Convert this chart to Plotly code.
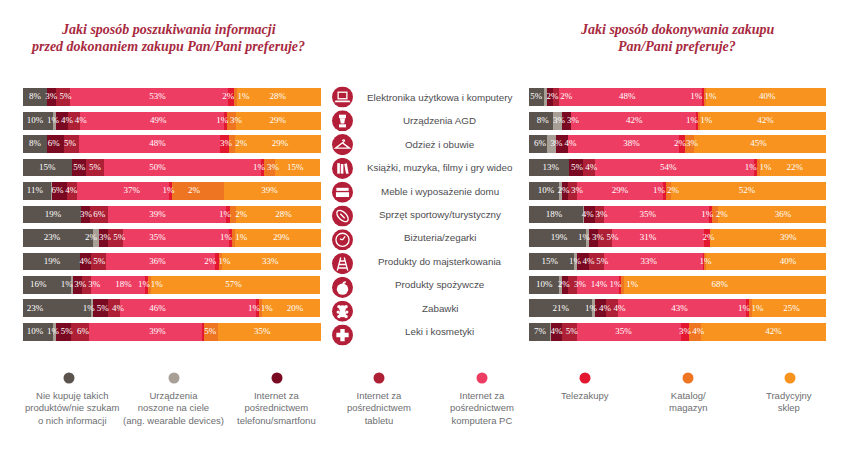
import base64
from plotly.subplots import make_subplots
import plotly.graph_objects as go

W = 842
H = 450

CATEGORIES = [
    "Elektronika użytkowa i komputery", "Urządzenia AGD", "Odzież i obuwie",
    "Książki, muzyka, filmy i gry wideo", "Meble i wyposażenie domu",
    "Sprzęt sportowy/turystyczny", "Biżuteria/zegarki", "Produkty do majsterkowania",
    "Produkty spożywcze", "Zabawki", "Leki i kosmetyki",
]
SERIES = [
    "Nie kupuję takich<br>produktów/nie szukam<br>o nich informacji",
    "Urządzenia<br>noszone na ciele<br>(ang. wearable devices)",
    "Internet za<br>pośrednictwem<br>telefonu/smartfonu",
    "Internet za<br>pośrednictwem<br>tabletu",
    "Internet za<br>pośrednictwem<br>komputera PC",
    "Telezakupy",
    "Katalog/<br>magazyn",
    "Tradycyjny<br>sklep",
]
COLORS = ["#5a534e", "#a89f97", "#7a0a22", "#ad2036", "#ee3d63", "#e3172f", "#ee7623", "#f7931e"]

# segment widths as drawn in the picture (they do not always agree with the printed labels)
LEFT_WIDTHS = [
    [8.1, 0, 3.0, 4.8, 53.0, 1.9, 1.1, 28.1],
    [10.1, 1.0, 4.0, 4.0, 48.3, 1.0, 3.0, 28.6],
    [8.1, 0, 5.7, 5.0, 47.3, 3.0, 2.0, 28.9],
    [16.3, 0, 5.0, 6.0, 52.7, 1.0, 3.4, 15.4],
    [9.4, 0.3, 5.0, 3.4, 30.9, 1.0, 17.3, 32.7],
    [19.5, 0, 3.0, 6.0, 39.6, 1.3, 2.0, 28.6],
    [23.5, 2.0, 3.0, 5.0, 35.6, 1.0, 1.0, 28.9],
    [19.1, 0, 3.7, 5.0, 36.6, 1.3, 1.0, 33.2],
    [16.1, 0.7, 3.0, 3.0, 18.1, 1.0, 1.0, 56.7],
    [22.8, 0.7, 5.0, 4.0, 45.6, 1.0, 1.0, 19.5],
    [10.1, 1.0, 5.0, 6.0, 38.3, 0.3, 4.7, 34.6],
]
RIGHT_WIDTHS = [
    [5.1, 1.0, 2.0, 2.0, 48.1, 0.7, 0.7, 40.4],
    [8.1, 3.0, 3.0, 0, 42.1, 0.7, 0.7, 42.4],
    [6.1, 3.0, 4.0, 0, 37.4, 2.0, 3.0, 44.5],
    [13.5, 0, 4.7, 4.0, 53.5, 1.0, 1.0, 22.3],
    [10.1, 1.0, 2.0, 3.0, 29.0, 1.0, 1.7, 52.2],
    [18.2, 0.3, 3.7, 3.0, 35.4, 1.0, 2.0, 36.4],
    [19.2, 1.0, 3.0, 4.7, 31.0, 2.0, 0, 39.1],
    [15.2, 1.0, 4.0, 5.0, 33.7, 0.3, 0.3, 40.5],
    [10.1, 1.0, 2.0, 3.0, 14.1, 0.7, 1.0, 68.1],
    [21.2, 1.0, 3.7, 4.0, 43.1, 1.0, 1.0, 25.0],
    [7.1, 0.3, 3.7, 5.0, 35.0, 2.7, 4.0, 42.2],
]

# printed labels and where they sit along the bar
LEFT_LABELS = [
    ["8%", "3%", "5%", "53%", "2%", "1%", "28%"],
    ["10%", "1%", "4%", "4%", "49%", "1%", "3%", "29%"],
    ["8%", "6%", "5%", "48%", "3%", "2%", "29%"],
    ["15%", "5%", "5%", "50%", "1%", "3%", "15%"],
    ["11%", "6%", "4%", "37%", "1%", "2%", "39%"],
    ["19%", "3%", "6%", "39%", "1%", "2%", "28%"],
    ["23%", "2%", "3%", "5%", "35%", "1%", "1%", "29%"],
    ["19%", "4%", "5%", "36%", "2%", "1%", "33%"],
    ["16%", "1%", "3%", "3%", "18%", "1%", "1%", "57%"],
    ["23%", "1%", "5%", "4%", "46%", "1%", "1%", "20%"],
    ["10%", "1%", "5%", "6%", "39%", "5%", "35%"],
]
LEFT_LABEL_X = [
    [4.0, 9.5, 14.3, 45.1, 68.9, 74.0, 85.5],
    [4.0, 10.1, 14.8, 19.4, 45.4, 66.9, 71.5, 85.5],
    [4.0, 10.3, 15.8, 45.1, 68.1, 73.2, 86.2],
    [8.1, 18.9, 24.2, 45.1, 79.2, 83.9, 91.4],
    [4.0, 11.6, 16.2, 36.5, 48.8, 57.4, 82.7],
    [10.1, 21.1, 25.6, 45.1, 67.8, 73.2, 87.4],
    [9.7, 22.8, 27.5, 32.3, 45.1, 68.1, 73.2, 86.7],
    [9.7, 21.0, 25.6, 45.1, 62.8, 67.6, 83.0],
    [5.1, 14.7, 19.2, 23.9, 33.7, 40.6, 44.9, 70.6],
    [4.0, 22.1, 26.8, 31.9, 45.1, 77.5, 81.8, 91.3],
    [4.0, 10.1, 14.7, 20.1, 45.1, 62.8, 80.3],
]
RIGHT_LABELS = [
    ["5%", "2%", "2%", "48%", "1%", "1%", "40%"],
    ["8%", "3%", "3%", "42%", "1%", "1%", "42%"],
    ["6%", "3%", "4%", "38%", "2%", "3%", "45%"],
    ["13%", "5%", "4%", "54%", "1%", "1%", "22%"],
    ["10%", "2%", "3%", "29%", "1%", "2%", "52%"],
    ["18%", "4%", "3%", "35%", "1%", "2%", "36%"],
    ["19%", "1%", "3%", "5%", "31%", "2%", "39%"],
    ["15%", "1%", "4%", "5%", "33%", "1%", "40%"],
    ["10%", "2%", "3%", "14%", "1%", "1%", "68%"],
    ["21%", "1%", "4%", "4%", "43%", "1%", "1%", "25%"],
    ["7%", "4%", "5%", "35%", "3%", "4%", "42%"],
]
RIGHT_LABEL_X = [
    [2.4, 7.9, 12.5, 33.1, 56.3, 61.1, 80.2],
    [4.6, 10.1, 14.8, 35.4, 54.9, 59.7, 79.6],
    [3.7, 9.3, 14.0, 34.5, 50.8, 54.9, 77.3],
    [7.3, 16.2, 21.0, 46.9, 74.7, 79.6, 89.5],
    [5.7, 11.6, 16.2, 30.6, 43.8, 48.5, 73.4],
    [8.4, 19.8, 24.4, 40.0, 60.0, 64.9, 85.5],
    [10.1, 18.5, 23.2, 28.1, 40.1, 60.4, 87.3],
    [7.0, 15.5, 20.0, 24.7, 40.3, 59.4, 87.2],
    [5.1, 11.7, 17.2, 23.6, 29.1, 34.8, 64.2],
    [10.7, 20.9, 25.6, 30.5, 50.7, 72.4, 76.9, 88.4],
    [3.7, 9.3, 14.4, 31.8, 52.5, 57.0, 82.3],
]

LEFT_TITLE = ["Jaki sposób poszukiwania informacji", "przed dokonaniem zakupu Pan/Pani preferuje?"]
RIGHT_TITLE = ["Jaki sposób dokonywania zakupu", "Pan/Pani preferuje?"]

# white pictograms on a 24x24 grid, one per category
S = 'fill="none" stroke="#fff" stroke-width="1.5"'
ICONS = [
    f'<rect x="7" y="6.5" width="10" height="7.5" {S}/><path d="M4 16h16l1 2H3z" fill="#fff"/>',
    '<rect x="8" y="5" width="8" height="4" fill="#fff"/><path d="M9 9h6l-1 6h-4z" fill="#fff"/>'
    '<rect x="8" y="16" width="8" height="3.5" fill="#fff"/>',
    f'<path d="M12 8c0-2 3-2 2 0l-2 2-8 6h16l-8-6" {S}/>',
    '<rect x="6" y="6" width="3" height="12" fill="#fff"/><rect x="10" y="7" width="3" height="11" fill="#fff"/>'
    '<path d="M14 7l3-1 2 12h-3z" fill="#fff"/>',
    '<rect x="5" y="7" width="14" height="3.5" fill="#fff"/><rect x="4.5" y="12" width="15" height="5.5" fill="#fff"/>',
    f'<ellipse cx="12" cy="12" rx="8" ry="4.5" transform="rotate(45 12 12)" {S}/><path d="M9.5 9.5l5 5" {S}/>',
    f'<circle cx="12" cy="12" r="7.5" {S}/><path d="M12 12l3-4M12 12l-3-1" {S}/>',
    f'<path d="M10 5L6 20M14 5l4 15M9 9h6M8 13h8M7 17h10" {S}/>',
    '<circle cx="12" cy="14" r="6.5" fill="#fff"/><path d="M12 8c0-2 1-3 4-3 0 2-1 3-4 3z" fill="#fff"/>',
    '<circle cx="8" cy="7" r="2" fill="#fff"/><circle cx="16" cy="7" r="2" fill="#fff"/>'
    '<circle cx="12" cy="9" r="3.8" fill="#fff"/><circle cx="12" cy="15" r="4" fill="#fff"/>'
    '<circle cx="7" cy="13" r="1.8" fill="#fff"/><circle cx="17" cy="13" r="1.8" fill="#fff"/>'
    '<circle cx="8" cy="18" r="2" fill="#fff"/><circle cx="16" cy="18" r="2" fill="#fff"/>',
    '<path d="M9.5 5h5v4.5H19v5h-4.5V19h-5v-4.5H5v-5h4.5z" fill="#fff"/>',
]


def px(x):
    return x / W


def py(y):
    return 1 - y / H


def icon_uri(glyph):
    svg = (
        '<svg xmlns="http://www.w3.org/2000/svg" viewBox="0 0 24 24">'
        f'<circle cx="12" cy="12" r="12" fill="#b31f38"/>{glyph}</svg>'
    )
    return "data:image/svg+xml;base64," + base64.b64encode(svg.encode()).decode()


def add_panel(fig, widths, labels, label_x, col):
    for s, name in enumerate(SERIES):
        fig.add_trace(
            go.Bar(
                x=[row[s] for row in widths],
                y=CATEGORIES,
                orientation="h",
                name=name.replace("<br>", " "),
                marker=dict(color=COLORS[s], line=dict(width=0)),
                hoverinfo="x+name",
            ),
            row=1, col=col,
        )
    xs = [x for row in label_x for x in row]
    ys = [c for c, row in zip(CATEGORIES, label_x) for _ in row]
    texts = [t for row in labels for t in row]
    fig.add_trace(
        go.Scatter(
            x=xs, y=ys, text=texts, mode="text",
            textposition="middle center",
            textfont=dict(color="white", size=9, family="Liberation Serif"),
            hoverinfo="skip",
        ),
        row=1, col=col,
    )


fig = make_subplots(rows=1, cols=2)
add_panel(fig, LEFT_WIDTHS, LEFT_LABELS, LEFT_LABEL_X, 1)
add_panel(fig, RIGHT_WIDTHS, RIGHT_LABELS, RIGHT_LABEL_X, 2)

fig.update_xaxes(range=[0, 100], showgrid=False, zeroline=False, showticklabels=False, ticks="")
fig.update_yaxes(
    autorange="reversed", showgrid=False, zeroline=False, showticklabels=False, ticks="",
    domain=[py(344.85), py(84.15)],
)
fig.update_xaxes(domain=[px(23), px(321)], row=1, col=1)
fig.update_xaxes(domain=[px(529), px(826)], row=1, col=2)

annotations = []
for lines, x in [(LEFT_TITLE, 168), (RIGHT_TITLE, 677)]:
    for line, y in zip(lines, [30, 46]):
        annotations.append(dict(
            text=f"<b><i>{line}</i></b>", x=px(x), y=py(y), xref="paper", yref="paper", showarrow=False,
            xanchor="center", yanchor="middle",
            font=dict(family="Liberation Serif", size=14, color="#a82a3f"),
        ))
for c in CATEGORIES:
    annotations.append(dict(
        text=c, x=px(439.5), y=c, xref="paper", yref="y", showarrow=False,
        xanchor="center", yanchor="middle",
        font=dict(family="Liberation Sans", size=9.8, color="#4d4d4f"),
    ))

images = []
for i, glyph in enumerate(ICONS):
    images.append(dict(
        source=icon_uri(glyph), xref="paper", yref="paper",
        x=px(342.5), y=py(97 + 23.8 * i), sizex=21 / W, sizey=21 / H,
        xanchor="center", yanchor="middle", sizing="contain", layer="above",
    ))

shapes = []
dot_x = [69, 174, 277, 379, 482, 585, 688, 790]
text_x = [72, 173, 276, 379, 482, 585, 688, 789]
for name, color, x, tx in zip(SERIES, COLORS, dot_x, text_x):
    shapes.append(dict(
        type="circle", xref="paper", yref="paper", line=dict(width=0), fillcolor=color,
        x0=px(x - 5.5), x1=px(x + 5.5), y0=py(383.5), y1=py(372.5),
    ))
    annotations.append(dict(
        text=name, x=px(tx), y=py(388), xref="paper", yref="paper", showarrow=False,
        xanchor="center", yanchor="top", align="center",
        font=dict(family="Liberation Sans", size=9.5, color="#6d6e71"),
    ))

fig.update_layout(
    width=W, height=H,
    barmode="stack", bargap=0.24,
    margin=dict(l=0, r=0, t=0, b=0),
    paper_bgcolor="white", plot_bgcolor="white",
    showlegend=False,
    annotations=annotations, images=images, shapes=shapes,
)

fig.write_html("out.html", config={"displayModeBar": False}, post_script="document.body.style.margin='0';")
